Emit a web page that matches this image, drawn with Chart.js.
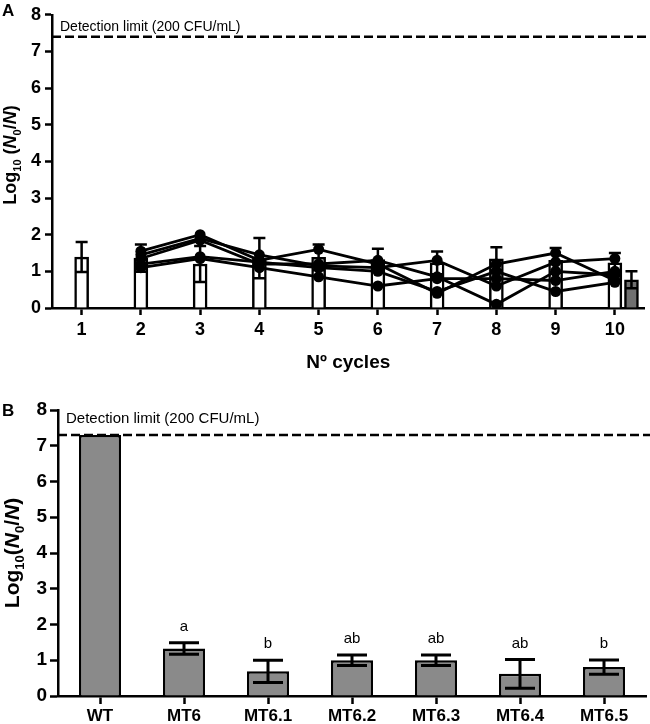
<!DOCTYPE html>
<html><head><meta charset="utf-8">
<script src="https://cdn.jsdelivr.net/npm/chart.js@4"></script>
<style>
html,body{margin:0;padding:0;background:#fff;}
#wrapA{position:absolute;left:0;top:0;width:650px;height:380px;}
#wrapB{position:absolute;left:0;top:380px;width:650px;height:344px;}
</style></head><body>
<div id="wrapA"><canvas id="cA"></canvas></div>
<div id="wrapB"><canvas id="cB"></canvas></div>
<script>
// ---------- Panel A data ----------
const cycles = [1, 2, 3, 4, 5, 6, 7, 8, 9, 10];
const cycleMeans = [1.39, 1.36, 1.20, 1.36, 1.38, 1.32, 1.23, 1.34, 1.30, 1.23];
const cycleSD = [0.41, 0.37, 0.49, 0.55, 0.35, 0.30, 0.31, 0.32, 0.34, 0.27];
const finalX = [10.28];
const finalMean = [0.77];
const finalSD = [0.23];
const replicateCycles = [2, 3, 4, 5, 6, 7, 8, 9, 10];
const rep1 = [1.55, 2.00, 1.30, 1.60, 1.20, 0.40, 1.20, 1.50, 0.75];
const rep2 = [1.45, 1.90, 1.45, 1.15, 1.10, 1.30, 0.60, 1.25, 1.35];
const rep3 = [1.35, 1.85, 1.20, 1.20, 1.30, 0.85, 0.10, 1.00, 0.90];
const rep4 = [1.20, 1.40, 1.25, 1.10, 1.00, 0.45, 1.00, 0.45, 0.70];
const rep5 = [1.10, 1.35, 1.10, 0.85, 0.60, 0.80, 0.80, 0.75, 1.00];
const detectionLimitA = 7.4;
const yTicks = [0, 1, 2, 3, 4, 5, 6, 7, 8];

// ---------- Panel B data ----------
const strains = ['WT', 'MT6', 'MT6.1', 'MT6.2', 'MT6.3', 'MT6.4', 'MT6.5'];
const strainMeans = [7.3, 1.33, 0.69, 1.00, 1.00, 0.62, 0.81];
const strainSD = [0, 0.16, 0.31, 0.15, 0.15, 0.40, 0.20];
const strainLetters = ['', 'a', 'b', 'ab', 'ab', 'ab', 'b'];
const detectionLimitB = 7.3;
const detectionText = 'Detection limit (200 CFU/mL)';

const FONT = '"Liberation Sans", Arial, Helvetica, sans-serif';

const errorBarPlugin = {
  id: 'errorBars',
  afterDatasetDraw(chart, args, opts) {
    const ds = chart.data.datasets[args.index];
    if (!ds.errorValues) return;
    const ctx = chart.ctx, y = chart.scales.y;
    ctx.save();
    ctx.strokeStyle = '#000';
    ctx.lineWidth = opts.lineWidth;
    args.meta.data.forEach((el, i) => {
      const sd = ds.errorValues[i];
      if (!sd) return;
      const m = ds.meanValues[i];
      const yt = y.getPixelForValue(m + sd), yb = y.getPixelForValue(m - sd);
      const hw = opts.capWidth / 2;
      ctx.beginPath();
      ctx.moveTo(el.x, yt); ctx.lineTo(el.x, yb);
      ctx.moveTo(el.x - hw, yt); ctx.lineTo(el.x + hw, yt);
      ctx.moveTo(el.x - hw, yb); ctx.lineTo(el.x + hw, yb);
      ctx.stroke();
    });
    ctx.restore();
  }
};

const decorPlugin = {
  id: 'decor',
  afterDraw(chart, args, o) {
    const ctx = chart.ctx, y = chart.scales.y, ca = chart.chartArea;
    ctx.save();
    // detection limit
    const yl = y.getPixelForValue(o.limit);
    ctx.strokeStyle = '#000';
    ctx.lineWidth = 2.5;
    ctx.setLineDash([9, 4]);
    ctx.beginPath();
    ctx.moveTo(ca.left, yl); ctx.lineTo(chart.width, yl);
    ctx.stroke();
    ctx.setLineDash([]);
    ctx.fillStyle = '#000';
    ctx.font = o.limitFont + 'px ' + FONT;
    ctx.textAlign = 'left';
    ctx.textBaseline = 'alphabetic';
    ctx.fillText(detectionText, ca.left + 8, yl - o.limitGap);
    // panel letter
    ctx.font = 'bold 17px ' + FONT;
    ctx.fillText(o.panel, 2, o.panelY);
    // y title with subscripts
    const big = o.titleSize, small = Math.round(o.titleSize * 0.62);
    const parts = [
      {t: 'Log', f: 'bold ' + big + 'px ' + FONT, dy: 0},
      {t: '10', f: 'bold ' + small + 'px ' + FONT, dy: big * 0.25},
      {t: o.space ? ' (' : '(', f: 'bold ' + big + 'px ' + FONT, dy: 0},
      {t: 'N', f: 'italic bold ' + big + 'px ' + FONT, dy: 0},
      {t: '0', f: 'bold ' + small + 'px ' + FONT, dy: big * 0.25},
      {t: '/', f: 'bold ' + big + 'px ' + FONT, dy: 0},
      {t: 'N', f: 'italic bold ' + big + 'px ' + FONT, dy: 0},
      {t: ')', f: 'bold ' + big + 'px ' + FONT, dy: 0}
    ];
    let total = 0;
    parts.forEach(p => { ctx.font = p.f; p.w = ctx.measureText(p.t).width; total += p.w; });
    ctx.translate(o.titleX, o.titleY);
    ctx.rotate(-Math.PI / 2);
    let x = -total / 2;
    parts.forEach(p => { ctx.font = p.f; ctx.fillText(p.t, x, p.dy); x += p.w; });
    ctx.restore();
    // letters above bars
    if (o.letters) {
      const ds = chart.data.datasets[0];
      const meta = chart.getDatasetMeta(0);
      ctx.save();
      ctx.font = '15px ' + FONT;
      ctx.textAlign = 'center';
      ctx.fillStyle = '#000';
      meta.data.forEach((el, i) => {
        if (!o.letters[i]) return;
        const top = y.getPixelForValue(ds.meanValues[i] + ds.errorValues[i]);
        ctx.fillText(o.letters[i], el.x, top - 12);
      });
      ctx.restore();
    }
  }
};

Chart.defaults.font.family = FONT;
Chart.defaults.color = '#000';

// ---------- Chart A ----------
const lineDs = (d) => ({
  type: 'line',
  data: replicateCycles.map((c, i) => ({x: c, y: d[i]})),
  borderColor: '#000', backgroundColor: '#000', borderWidth: 2.8,
  pointRadius: 5.5, pointHoverRadius: 5.5, pointBackgroundColor: '#000',
  pointBorderWidth: 0, tension: 0, order: 1
});

new Chart(document.getElementById('cA'), {
  type: 'bar',
  data: {
    datasets: [
      {
        data: cycles.map((c, i) => ({x: c, y: cycleMeans[i]})),
        meanValues: cycleMeans, errorValues: cycleSD,
        backgroundColor: '#fff', borderColor: '#000', borderWidth: 2.5,
        barThickness: 14, grouped: false, order: 2
      },
      {
        data: finalX.map((c, i) => ({x: c, y: finalMean[i]})),
        meanValues: finalMean, errorValues: finalSD,
        backgroundColor: '#707070', borderColor: '#000', borderWidth: 2.5,
        barThickness: 14, grouped: false, order: 3
      },
      lineDs(rep1), lineDs(rep2), lineDs(rep3), lineDs(rep4), lineDs(rep5)
    ]
  },
  options: {
    responsive: true, maintainAspectRatio: false, animation: false,
    events: [],
    layout: {padding: {top: 14, right: 0, left: 0, bottom: 0}},
    plugins: {
      legend: {display: false}, tooltip: {enabled: false},
      errorBars: {lineWidth: 2.5, capWidth: 12},
      decor: {limit: detectionLimitA, limitFont: 14, limitGap: 6, panel: 'A', panelY: 16,
              titleSize: 18, titleX: 16, titleY: 155, space: true, letters: null}
    },
    scales: {
      x: {
        type: 'linear', min: 0.5, max: 10.5, offset: false,
        afterBuildTicks: s => { s.ticks = cycles.map(v => ({value: v})); },
        afterFit: s => { s.height = 72; },
        grid: {offset: false, drawOnChartArea: false, drawTicks: true, tickLength: 7, tickWidth: 2.5, tickColor: '#000'},
        border: {display: true, width: 2.5, color: '#000'},
        ticks: {font: {size: 18, weight: 'bold'}, padding: 4, color: '#000'},
        title: {display: true, text: 'Nº cycles', font: {size: 19, weight: 'bold'}, color: '#000', padding: {top: 0, bottom: 6}}
      },
      y: {
        min: 0, max: 8,
        afterBuildTicks: s => { s.ticks = yTicks.map(v => ({value: v})); },
        afterFit: s => { s.width = 52; },
        grid: {drawOnChartArea: false, drawTicks: true, tickLength: 7, tickWidth: 2.5, tickColor: '#000'},
        border: {display: true, width: 2.5, color: '#000'},
        ticks: {font: {size: 18, weight: 'bold'}, padding: 4, color: '#000'}
      }
    }
  },
  plugins: [errorBarPlugin, decorPlugin]
});

// ---------- Chart B ----------
new Chart(document.getElementById('cB'), {
  type: 'bar',
  data: {
    labels: strains,
    datasets: [{
      data: strainMeans, meanValues: strainMeans, errorValues: strainSD,
      backgroundColor: '#8a8a8a', borderColor: '#000', borderWidth: 2.5,
      barPercentage: 0.5, categoryPercentage: 1
    }]
  },
  options: {
    responsive: true, maintainAspectRatio: false, animation: false,
    events: [],
    layout: {padding: {top: 30, right: 4, left: 0, bottom: 0}},
    plugins: {
      legend: {display: false}, tooltip: {enabled: false},
      errorBars: {lineWidth: 3, capWidth: 30},
      decor: {limit: detectionLimitB, limitFont: 15, limitGap: 12, panel: 'B', panelY: 36,
              titleSize: 21, titleX: 19, titleY: 173, space: false, letters: strainLetters}
    },
    scales: {
      x: {
        afterFit: s => { s.height = 28; },
        grid: {drawOnChartArea: false, drawTicks: true, tickLength: 8, tickWidth: 2.5, tickColor: '#000', offset: false},
        border: {display: true, width: 2.5, color: '#000'},
        ticks: {font: {size: 17, weight: 'bold'}, padding: 2, color: '#000'}
      },
      y: {
        min: 0, max: 8,
        afterBuildTicks: s => { s.ticks = yTicks.map(v => ({value: v})); },
        afterFit: s => { s.width = 58; },
        grid: {drawOnChartArea: false, drawTicks: true, tickLength: 8, tickWidth: 2.5, tickColor: '#000'},
        border: {display: true, width: 2.5, color: '#000'},
        ticks: {font: {size: 19, weight: 'bold'}, padding: 3, color: '#000'}
      }
    }
  },
  plugins: [errorBarPlugin, decorPlugin]
});
</script>
</body></html>
